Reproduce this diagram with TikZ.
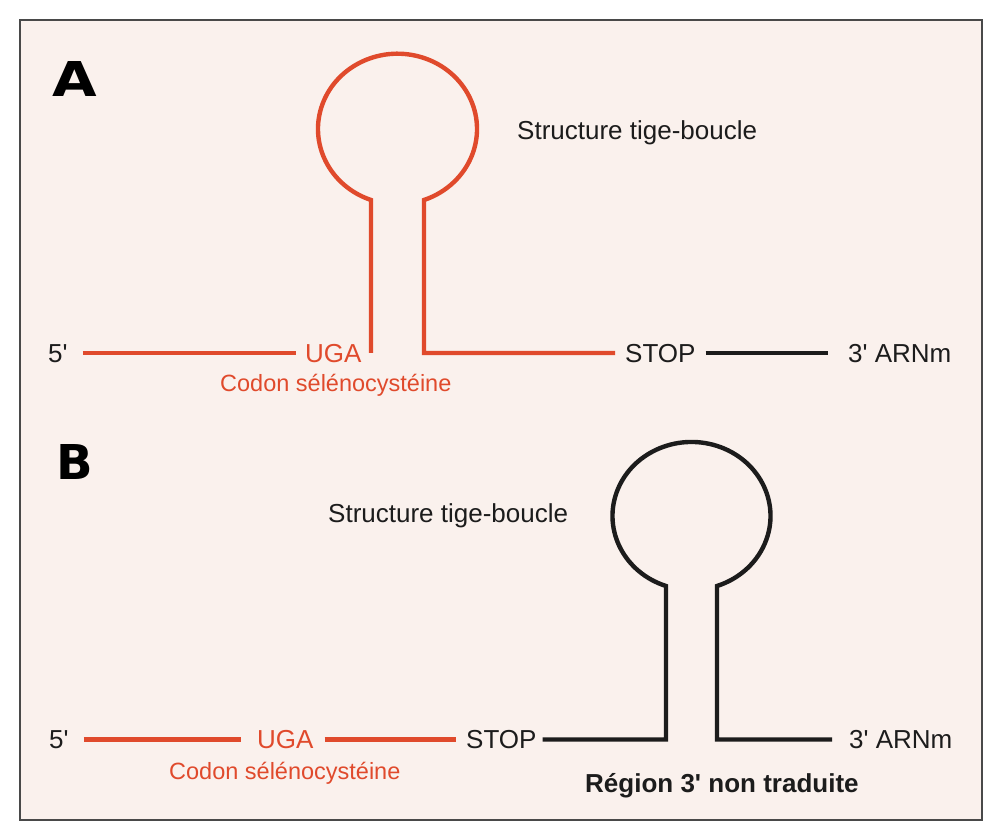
\documentclass[tikz,border=0pt]{standalone}
\usepackage{fontspec}
\usepackage{graphicx}
\setmainfont{Liberation Sans}
\newfontfamily\heavyfont{DejaVu Sans}

\definecolor{seccolor}{RGB}{224,74,44}
\definecolor{paper}{RGB}{250,241,237}
\definecolor{ink}{RGB}{28,28,28}

\begin{document}
\begin{tikzpicture}[x=1pt,y=1pt,
    strand/.style={line width=4.4pt},
    sec/.style={strand, draw=seccolor},
    utr/.style={strand, draw=ink},
    lbl/.style={inner sep=0pt, anchor=west, text height=18.6pt, text depth=0pt,
      text=ink, font=\fontsize{26}{30}\selectfont},
    redlbl/.style={lbl, text=seccolor},
    codon/.style={redlbl, text height=16.8pt, font=\fontsize{23.5}{28}\selectfont},
    panel/.style={inner sep=0pt, text=black, font=\heavyfont\bfseries\fontsize{48}{50}\selectfont}]

      % Background and frame
      \useasboundingbox (0,0) rectangle (1000,835);
      \fill[white] (0,0) rectangle (1000,835);
      \draw[line width=2pt, draw=ink!80, fill=paper] (20,15) rectangle (982,815);

      % Panel A: loop before the STOP codon
      \node[panel] (A) at (75,756) {\scalebox{1.2}[1]{A}};
      \node[lbl] (fiveA) at (48,482) {5\textquotesingle};
      \node[redlbl] (ugaA) at (305,482) {UGA};
      \node[codon] (codonA) at (220,452) {Codon sélénocystéine};
      \node[lbl] (stopA) at (625,482) {STOP};
      \node[lbl] (arnA) at (848,482) {3\textquotesingle{} ARNm};
      \node[lbl] (loopA) at (517,705) {Structure tige-boucle};

      \coordinate (stemAl) at (371,482);
      \coordinate (stemAr) at (424,482);

      \draw[sec, shorten <=15pt, shorten >=9pt] (fiveA.east) -- (ugaA.west);
      \draw[sec, shorten >=10pt] (stemAl) -- ++(0,153)
          arc[start angle=250.53, end angle=-70.53, x radius=79.5, y radius=75.3]
          -- (stemAr) -- (stopA.west);
      \draw[utr, shorten <=10pt, shorten >=20pt] (stopA.east) -- (arnA.west);

      % Panel B: loop in the 3' region
      \node[panel] (B) at (75,373) {B};
      \node[lbl] (fiveB) at (49,95.5) {5\textquotesingle};
      \node[redlbl] (ugaB) at (257,95.5) {UGA};
      \node[codon] (codonB) at (169,64.4) {Codon sélénocystéine};
      \node[lbl] (stopB) at (466,95.5) {STOP};
      \node[lbl] (arnB) at (849,95.5) {3\textquotesingle{} ARNm};
      \node[lbl] (loopB) at (328,321.3) {Structure tige-boucle};
      \node[lbl, font=\bfseries\fontsize{26}{30}\selectfont] (utrB) at (585,52.3)
          {Région 3\textquotesingle{} non traduite};

      \coordinate (stemBl) at (666,95.5);
      \coordinate (stemBr) at (717,95.5);

      \draw[sec, shorten <=15pt, shorten >=16pt] (fiveB.east) -- (ugaB.west);
      \draw[sec, shorten <=11pt, shorten >=10pt] (ugaB.east) -- (stopB.west);
      \draw[utr, shorten <=6pt, shorten >=17pt] (stopB.east) -- (stemBl) -- ++(0,153.5)
          arc[start angle=251.17, end angle=-71.17, x radius=79, y radius=74]
          -- (stemBr) -- (arnB.west);
    \end{tikzpicture}
\end{document}
